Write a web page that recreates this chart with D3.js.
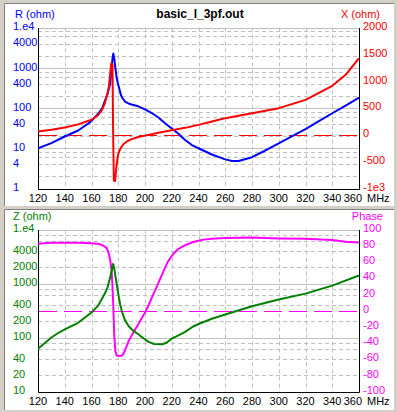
<!DOCTYPE html>
<html>
<head>
<meta charset="utf-8">
<script src="https://cdn.jsdelivr.net/npm/d3@7"></script>
<style>
  html, body { margin: 0; padding: 0; background: #d4d0c8; }
  svg { display: block; }
  text { font-family: "Liberation Sans", Arial, sans-serif; font-size: 11px; }
</style>
</head>
<body>
<svg id="chart" width="397" height="412"></svg>
<script>
const freqTicks = [120, 140, 160, 180, 200, 220, 240, 260, 280, 300, 320, 340, 360];
const rTicks = [1, 4, 10, 40, 100, 400, 1000, 4000, 10000];
const xTicks = [-1000, -500, 0, 500, 1000, 1500, 2000];
const zTicks = [10, 20, 40, 100, 200, 400, 1000, 2000, 4000, 10000];
const phaseTicks = [-100, -80, -60, -40, -20, 0, 20, 40, 60, 80, 100];

// R (ohm), blue
const rFreq = [120, 130, 140, 150, 158, 160, 165, 168, 170, 172, 174, 175, 175.8, 176.3, 177, 178, 179, 180, 182, 183, 185, 188, 190, 195, 200, 205, 210, 215, 220, 225, 230, 235, 240, 250, 260, 265, 270, 280, 290, 300, 310, 320, 330, 340, 350, 360];
const rVals = [10, 13.4, 19.6, 27.6, 42, 48, 72, 100, 150, 225, 400, 1000, 1800, 2250, 1700, 900, 520, 380, 210, 180, 145, 128, 122, 110, 92, 75, 58, 42, 31, 23, 16, 12, 10, 7.0, 5.3, 4.8, 4.8, 6.0, 8.8, 13.3, 20, 30, 47, 74, 115, 180];

// X (ohm), red
const xFreq = [120, 130, 140, 150, 160, 165, 168, 170, 172, 173, 174, 174.8, 175.3, 175.7, 176.2, 176.7, 177.6, 178.5, 179.3, 180, 181, 182, 184, 187, 190, 195, 200, 205, 210, 220, 230, 240, 250, 260, 280, 300, 320, 340, 350, 360];
const xVals = [62, 95, 137, 195, 280, 370, 470, 590, 780, 900, 1150, 1335, 1250, 1300, 0, -851, -860, -620, -460, -360, -290, -240, -170, -115, -80, -40, -15, 10, 40, 85, 130, 186, 248, 311, 403, 497, 652, 913, 1118, 1428];

// Z (ohm), green
const zFreq = [120, 130, 136, 140, 150, 160, 165, 170, 172, 174, 175.2, 176, 176.5, 177.3, 178.5, 180, 181.5, 183, 185, 188, 191, 195, 199, 203, 207, 213, 216, 220, 225, 230, 236, 240, 250, 260, 280, 300, 320, 340, 360];
const zVals = [62, 100, 125, 141, 187, 290, 390, 650, 850, 1300, 1800, 2300, 2200, 1700, 1100, 650, 400, 290, 210, 160, 135, 115, 96, 82, 76, 75, 80, 95, 110, 127, 160, 178, 222, 267, 380, 505, 650, 915, 1410];

// Phase (deg), magenta
const pFreq = [120, 130, 140, 150, 160, 166, 169, 171.4, 173, 174, 175, 175.7, 176.3, 177, 177.8, 179, 182.6, 184, 186.3, 188, 191.3, 195, 198.8, 202, 206.2, 210, 213.7, 217, 221.2, 225, 231.2, 236, 243.6, 250, 260, 280, 300, 320, 340, 350, 360];
const pVals = [82.5, 83.5, 83.5, 83.5, 83, 82, 80, 77, 70, 62, 50, 30, 5, -30, -50, -56, -56, -53, -44, -37, -27, -17, -6, 4, 20, 34, 48, 60, 70, 76, 81.5, 84.5, 87.5, 88.5, 89.5, 90, 89, 88.5, 87, 85, 84];

const svg = d3.select("#chart");
const plotLeft = 38, plotRight = 359;

const x = d3.scaleLinear().domain([120, 360]).range([plotLeft, plotRight]);

const fmtLog = v => v === 10000 ? "1.e4" : String(v);
const fmtLin = v => v === -1000 ? "-1e3" : String(v);

function drawPanel(p) {
    const g = svg.append("g");

    // sunken panel
    g.append("rect")
        .attr("x", 4).attr("y", p.panelTop)
        .attr("width", 390).attr("height", p.panelBottom - p.panelTop)
        .attr("fill", "#fff");
    g.append("path")
        .attr("d", `M4.5,${p.panelBottom}V${p.panelTop + 0.5}H394`)
        .attr("fill", "none").attr("stroke", "#808080");

    const yl = p.left;
    const yr = p.right;

    // log grid: solid decades, dashed 2/4/6/8
    const [lo, hi] = yl.domain();
    const decades = [], minors = [];
    for (let d = lo; d <= hi; d *= 10) {
        decades.push(d);
        if (d < hi) [2, 4, 6, 8].forEach(m => minors.push(d * m));
    }
    g.selectAll(null).data(minors).enter().append("line")
        .attr("x1", plotLeft).attr("x2", plotRight)
        .attr("y1", d => Math.round(yl(d)) + 0.5).attr("y2", d => Math.round(yl(d)) + 0.5)
        .attr("stroke", "#c0c0c0").attr("stroke-dasharray", "4,3");
    g.selectAll(null).data(decades).enter().append("line")
        .attr("x1", plotLeft).attr("x2", plotRight)
        .attr("y1", d => Math.round(yl(d)) + 0.5).attr("y2", d => Math.round(yl(d)) + 0.5)
        .attr("stroke", "#c0c0c0");
    g.selectAll(null).data(freqTicks.slice(1, -1)).enter().append("line")
        .attr("x1", d => Math.round(x(d)) + 0.5).attr("x2", d => Math.round(x(d)) + 0.5)
        .attr("y1", yl.range()[1]).attr("y2", yl.range()[0])
        .attr("stroke", "#c0c0c0").attr("stroke-dasharray", "4,3");

    // zero line of right axis
    g.append("line")
        .attr("x1", plotLeft + 1).attr("x2", plotRight)
        .attr("y1", Math.round(yr(0)) + 0.5).attr("y2", Math.round(yr(0)) + 0.5)
        .attr("stroke", p.rightColor).attr("stroke-dasharray", "18,7");

    // axis frame
    const yb = Math.round(yl.range()[0]) + 0.5, yt = Math.round(yl.range()[1]);
    g.append("path")
        .attr("d", `M${plotLeft + 0.5},${yt}V${yb}H${plotRight + 0.5}V${yt}`)
        .attr("fill", "none").attr("stroke", "#000");

    // curves
    const clip = "clip" + p.id;
    g.append("clipPath").attr("id", clip).append("rect")
        .attr("x", plotLeft).attr("y", yt - 1)
        .attr("width", plotRight - plotLeft + 1).attr("height", yb - yt + 2);

    p.series.forEach(s => {
        const pts = s.freq.map((f, i) => [f, s.vals[i]]);
        g.append("path")
            .datum(pts)
            .attr("clip-path", `url(#${clip})`)
            .attr("fill", "none")
            .attr("stroke", s.color)
            .attr("stroke-width", 2)
            .attr("stroke-linejoin", "round")
            .attr("d", d3.line().x(d => x(d[0])).y(d => s.scale(d[1])));
    });

    // left tick labels
    g.selectAll(null).data(p.leftTicks).enter().append("text")
        .attr("x", 13).attr("y", d => yl(d) - 1).attr("dy", "0.35em")
        .attr("fill", p.leftColor).text(fmtLog);
    // right tick labels
    g.selectAll(null).data(p.rightTicks).enter().append("text")
        .attr("x", 363).attr("y", d => yr(d) - 1.5).attr("dy", "0.35em")
        .attr("fill", p.rightColor).text(fmtLin);
    // bottom tick labels
    g.selectAll(null).data(freqTicks.slice(0, -1)).enter().append("text")
        .attr("x", d => x(d)).attr("y", p.xLabelY)
        .attr("text-anchor", "middle").attr("fill", "#000").text(d => d);
    g.append("text").attr("x", 362).attr("y", p.xLabelY)
        .attr("text-anchor", "end").text(freqTicks[freqTicks.length - 1]);
    g.append("text").attr("x", 367).attr("y", p.xLabelY).text("MHz");

    // axis titles
    g.append("text").attr("x", p.leftTitleX).attr("y", p.titleY)
        .attr("fill", p.leftColor).text(p.leftTitle);
    g.append("text").attr("x", p.rightTitleX).attr("y", p.titleY)
        .attr("text-anchor", "end").attr("fill", p.rightColor).text(p.rightTitle);
}

const rScale = d3.scaleLog().domain([1, 10000]).range([188.5, 27.5]);
const xScale = d3.scaleLinear().domain([-1000, 2000]).range([188.5, 27.5]);
const zScale = d3.scaleLog().domain([10, 10000]).range([391.5, 229.5]);
const pScale = d3.scaleLinear().domain([-100, 100]).range([391.5, 229.5]);

drawPanel({
    id: "top", panelTop: 3, panelBottom: 206,
    left: rScale, right: xScale,
    leftTicks: rTicks, rightTicks: xTicks,
    leftColor: "#0000ff", rightColor: "#ff0000",
    leftTitle: "R (ohm)", rightTitle: "X (ohm)",
    leftTitleX: 15, rightTitleX: 380, titleY: 17.5, xLabelY: 202,
    series: [
        { freq: rFreq, vals: rVals, scale: rScale, color: "#0000ff" },
        { freq: xFreq, vals: xVals, scale: xScale, color: "#ff0000" }
    ]
});

drawPanel({
    id: "bot", panelTop: 209, panelBottom: 410,
    left: zScale, right: pScale,
    leftTicks: zTicks, rightTicks: phaseTicks,
    leftColor: "#008000", rightColor: "#ff00ff",
    leftTitle: "Z (ohm)", rightTitle: "Phase",
    leftTitleX: 13, rightTitleX: 383, titleY: 219.5, xLabelY: 404.5,
    series: [
        { freq: pFreq, vals: pVals, scale: pScale, color: "#ff00ff" },
        { freq: zFreq, vals: zVals, scale: zScale, color: "#008000" }
    ]
});

svg.append("text")
    .attr("x", 200).attr("y", 17.5)
    .attr("text-anchor", "middle")
    .style("font-weight", "bold").style("font-size", "12px")
    .text("basic_l_3pf.out");
</script>
</body>
</html>
